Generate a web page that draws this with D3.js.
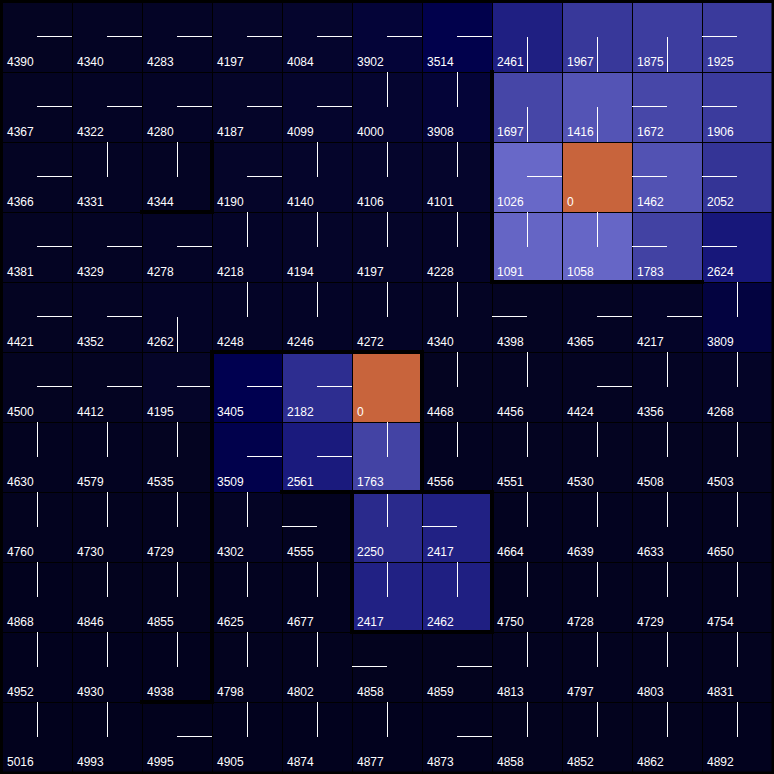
<!DOCTYPE html>
<html>
<head>
<meta charset="utf-8">
<script src="https://cdn.jsdelivr.net/npm/d3@7"></script>
<style>
  html, body { margin: 0; padding: 0; background: #000; }
  svg { display: block; }
</style>
</head>
<body>
<script>
// State values (cost-to-go), row by row
const row0  = [4390, 4340, 4283, 4197, 4084, 3902, 3514, 2461, 1967, 1875, 1925];
const row1  = [4367, 4322, 4280, 4187, 4099, 4000, 3908, 1697, 1416, 1672, 1906];
const row2  = [4366, 4331, 4344, 4190, 4140, 4106, 4101, 1026, 0, 1462, 2052];
const row3  = [4381, 4329, 4278, 4218, 4194, 4197, 4228, 1091, 1058, 1783, 2624];
const row4  = [4421, 4352, 4262, 4248, 4246, 4272, 4340, 4398, 4365, 4217, 3809];
const row5  = [4500, 4412, 4195, 3405, 2182, 0, 4468, 4456, 4424, 4356, 4268];
const row6  = [4630, 4579, 4535, 3509, 2561, 1763, 4556, 4551, 4530, 4508, 4503];
const row7  = [4760, 4730, 4729, 4302, 4555, 2250, 2417, 4664, 4639, 4633, 4650];
const row8  = [4868, 4846, 4855, 4625, 4677, 2417, 2462, 4750, 4728, 4729, 4754];
const row9  = [4952, 4930, 4938, 4798, 4802, 4858, 4859, 4813, 4797, 4803, 4831];
const row10 = [5016, 4993, 4995, 4905, 4874, 4877, 4873, 4858, 4852, 4862, 4892];
const values = [row0, row1, row2, row3, row4, row5, row6, row7, row8, row9, row10];

// Policy per cell: R right, L left, U up, D down, N none (goal)
const policy0  = ["R","R","R","R","R","R","R","D","D","D","L"];
const policy1  = ["R","R","R","R","R","U","U","D","D","L","L"];
const policy2  = ["R","U","U","R","U","U","U","R","N","L","L"];
const policy3  = ["R","R","R","U","U","U","U","U","U","L","L"];
const policy4  = ["R","R","D","U","U","U","U","L","R","R","U"];
const policy5  = ["R","R","R","R","R","N","U","U","R","U","U"];
const policy6  = ["U","U","U","R","R","U","U","U","U","U","U"];
const policy7  = ["U","U","U","U","L","U","L","U","U","U","U"];
const policy8  = ["U","U","U","U","U","U","U","U","U","U","U"];
const policy9  = ["U","U","U","U","U","L","R","U","U","U","U"];
const policy10 = ["U","U","R","U","U","U","R","U","U","U","U"];
const policies = [policy0, policy1, policy2, policy3, policy4, policy5, policy6, policy7, policy8, policy9, policy10];

// Walls in grid units: [x1, y1, x2, y2] along grid lines
const walls = [
  [7, 1, 7, 4],
  [7, 4, 10, 4],
  [3, 2, 3, 3],
  [2, 3, 3, 3],
  [3, 5, 6, 5],
  [6, 5, 6, 7],
  [3, 5, 3, 10],
  [2, 10, 3, 10],
  [4, 7, 7, 7],
  [5, 7, 5, 9],
  [7, 7, 7, 9],
  [5, 9, 7, 9]
];

const W = 774, H = 774, N = 11;
const svg = d3.select("body").append("svg").attr("width", W).attr("height", H);
svg.append("rect").attr("width", W).attr("height", H).attr("fill", "#000");

const x = d3.scaleBand().domain(d3.range(N)).range([2, 772]).padding(0);
const y = d3.scaleBand().domain(d3.range(N)).range([2, 772]).padding(0);
const gx = d3.scaleLinear().domain([0, N]).range([2, 772]);
const gy = d3.scaleLinear().domain([0, N]).range([2, 772]);

const color = d3.scaleLinear()
  .domain([1026, 2624, 3405, 3809, 4000, 4400, 5016])
  .range(["#6868c8", "#17177a", "#000050", "#030340", "#050530", "#040422", "#02021d"])
  .clamp(true);
const goalColor = "#c8643c";

const cells = [];
values.forEach((r, i) => r.forEach((v, j) => cells.push({ i, j, v, p: policies[i][j] })));

const bw = x.bandwidth();
const g = svg.append("g");

g.selectAll("rect.cell").data(cells).enter().append("rect")
  .attr("class", "cell")
  .attr("x", d => x(d.j) + 1)
  .attr("y", d => y(d.i) + 1)
  .attr("width", bw - 1)
  .attr("height", bw - 1)
  .attr("fill", d => d.v === 0 ? goalColor : color(d.v));

function seg(d) {
  const x0 = x(d.j), y0 = y(d.i), cx = x0 + bw / 2, cy = y0 + bw / 2;
  switch (d.p) {
    case "R": return [cx, cy - 0.5, x0 + bw, cy - 0.5];
    case "L": return [x0, cy - 0.5, cx, cy - 0.5];
    case "U": return [cx + 0.5, y0, cx + 0.5, cy];
    case "D": return [cx + 0.5, cy, cx + 0.5, y0 + bw];
  }
  return null;
}

g.selectAll("line.pol").data(cells.filter(d => d.p !== "N")).enter().append("line")
  .attr("class", "pol")
  .each(function(d) {
    const s = seg(d);
    d3.select(this).attr("x1", s[0]).attr("y1", s[1]).attr("x2", s[2]).attr("y2", s[3]);
  })
  .attr("stroke", "#fff")
  .attr("stroke-width", 1);

g.selectAll("text.val").data(cells).enter().append("text")
  .attr("class", "val")
  .attr("x", d => x(d.j) + 5)
  .attr("y", d => y(d.i) + 64)
  .attr("fill", "#fff")
  .attr("font-family", "'Liberation Sans', Arial, sans-serif")
  .attr("font-size", 12)
  .text(d => d.v);

g.selectAll("line.wall").data(walls).enter().append("line")
  .attr("class", "wall")
  .attr("x1", d => gx(d[0])).attr("y1", d => gy(d[1]))
  .attr("x2", d => gx(d[2])).attr("y2", d => gy(d[3]))
  .attr("stroke", "#000")
  .attr("stroke-width", 4)
  .attr("stroke-linecap", "square");

// outer frame
svg.append("rect")
  .attr("x", 1).attr("y", 1).attr("width", W - 2).attr("height", H - 2)
  .attr("fill", "none").attr("stroke", "#000").attr("stroke-width", 3);
</script>
</body>
</html>
